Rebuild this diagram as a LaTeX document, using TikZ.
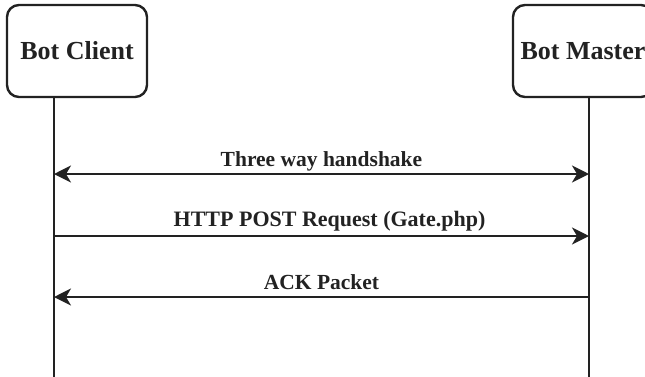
\documentclass[tikz,border=0pt]{standalone}
\usepackage{fontspec}
\setmainfont{Liberation Serif}
\usetikzlibrary{arrows.meta}
\definecolor{ink}{HTML}{222222}
\tikzset{
  actor/.style={draw=ink, line width=2.4pt, rounded corners=12pt, minimum width=140pt, minimum height=92pt, inner sep=0pt, text=ink, font=\bfseries\fontsize{26}{28}\selectfont},
  life/.style={draw=ink, line width=2.2pt},
  msg/.style={draw=ink, line width=2.2pt},
  tip/.style={-{Stealth[length=17pt,width=17pt,inset=5pt]}},
  lbl/.style={anchor=base, inner sep=0pt, text=ink, font=\bfseries\fontsize{21.5}{24}\selectfont}
}
\begin{document}
\begin{tikzpicture}[x=1pt,y=-1pt]
\useasboundingbox (0,0) rectangle (645,376);
\clip (0,0) rectangle (645,376);
\node[actor] (client) at (77,51) {Bot Client};
\node[actor] (master) at (583,51) {Bot Master};
\coordinate (cTop) at (54,97);
\coordinate (cBot) at (54,377);
\coordinate (mTop) at (589,97);
\coordinate (mBot) at (589,377);
\draw[life] (cTop) -- (cBot);
\draw[life] (mTop) -- (mBot);
\coordinate (c1) at (54,174);
\coordinate (m1) at (589,174);
\coordinate (c2) at (54,236);
\coordinate (m2) at (589,236);
\coordinate (c3) at (54,297);
\coordinate (m3) at (589,297);
\draw[msg, {Stealth[length=17pt,width=17pt,inset=5pt]}-{Stealth[length=17pt,width=17pt,inset=5pt]}] (c1) -- (m1) node[midway, lbl, yshift=8pt] {Three way handshake};
\draw[msg, tip] (c2) -- (m2) node[midway, lbl, yshift=10pt, xshift=8pt, font=\bfseries\fontsize{22}{24}\selectfont] {HTTP POST Request (Gate.php)};
\draw[msg, tip] (m3) -- (c3) node[midway, lbl, yshift=8pt] {ACK Packet};
\end{tikzpicture}
\end{document}
